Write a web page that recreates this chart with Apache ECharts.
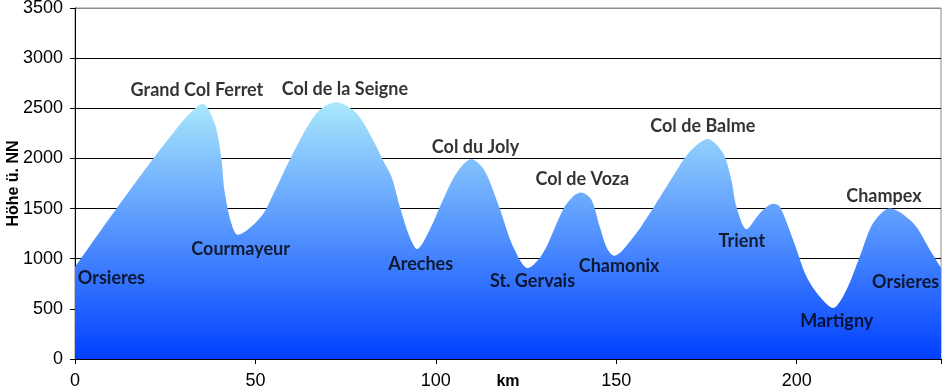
<!DOCTYPE html>
<html><head><meta charset="utf-8">
<script src="https://cdn.jsdelivr.net/npm/echarts@6/dist/echarts.min.js"></script>
<style>html,body{margin:0;padding:0;background:#fff}#c{width:944px;height:390px}</style>
</head><body><div id="c"></div>
<script>
// elevation profile (km, m)
const kmPts = [0,9.1,18.4,26.7,31.3,35.4,38.7,40.5,41.4,43.3,45.1,51.6,55.3,59.5,66.9,72.4,78,82.6,85.3,87.7,90,92.7,94.8,98.3,102,105.7,109.8,113.5,117.7,121.4,125.5,129.7,135.2,138,140.3,143.1,145.4,147.5,149.4,154.6,160.2,165.7,170.4,175.4,179.6,181.9,183.3,186.1,189.8,193.5,195.3,199,202.7,206.4,210.1,213.8,217.5,221.2,225.8,232.3,236.9,240];
const altPts = [915,1380,1840,2230,2430,2543,2350,2018,1686,1355,1238,1420,1670,1985,2450,2560,2450,2184,1985,1819,1520,1221,1096,1288,1587,1852,1995,1880,1500,1121,906,1056,1487,1620,1660,1587,1321,1100,1030,1210,1504,1819,2068,2194,2051,1786,1520,1295,1454,1547,1520,1188,823,623,508,690,1022,1355,1504,1355,1089,909];
// place-name annotations
const placeNames = ['Grand Col Ferret','Col de la Seigne','Courmayeur','Orsieres','Areches','Col du Joly','St. Gervais','Col de Voza','Chamonix','Col de Balme','Trient','Champex','Orsieres','Martigny'];
const placeKm = [33.8,74.8,45.9,10.1,95.8,111,126.8,140.6,150.8,174,184.8,224.2,230.2,211.1];
const placeAlt = [2682,2692,1099,810,949,2115,780,1796,929,2324,1178,1627,770,381];
const yTicks = [0,500,1000,1500,2000,2500,3000,3500];
const xTicks = [0,50,100,150,200];

const chart = echarts.init(document.getElementById('c'));
const labelFont = 'Lato, "Open Sans", sans-serif';
chart.setOption({
  animation:false,
  grid:{left:75,right:3,top:8,bottom:31,outerBoundsMode:'none',containLabel:false,show:true,borderColor:'#8c8c8c',borderWidth:1,backgroundColor:'transparent'},
  xAxis:{type:'value',min:0,max:240,interval:50,
    name:'km',nameLocation:'middle',nameGap:15,nameMoveOverlap:false,
    nameTextStyle:{fontFamily:'Liberation Sans, Arial',fontWeight:'bold',fontSize:16,color:'#000'},
    axisLine:{show:false},
    axisTick:{show:true,length:5,lineStyle:{color:'#000'}},
    axisLabel:{fontFamily:'Liberation Sans, Arial',fontSize:18,color:'#000',margin:13,
      formatter:v=>xTicks.includes(v)?String(v):''},
    splitLine:{show:false}},
  yAxis:{type:'value',min:0,max:3500,interval:500,
    name:'Höhe ü. NN',nameLocation:'middle',nameGap:53,nameRotate:90,nameMoveOverlap:false,
    nameTextStyle:{fontFamily:'Liberation Sans, Arial',fontWeight:'bold',fontSize:16,color:'#000'},
    axisLine:{show:true,lineStyle:{color:'#000'}},
    axisTick:{show:true,length:5,lineStyle:{color:'#000'}},
    axisLabel:{fontFamily:'Liberation Sans, Arial',fontSize:18,color:'#000',margin:12,
      formatter:v=>yTicks.includes(v)?String(v):''},
    splitLine:{show:true,lineStyle:{color:['#000','#000','#000','#000','#000','#000','#000','#8c8c8c'],width:1}}},
  series:[
    {type:'line',data:kmPts.map((k,i)=>[k,altPts[i]]),smooth:0.3,symbol:'none',
      lineStyle:{width:0},
      areaStyle:{opacity:1,color:new echarts.graphic.LinearGradient(0,0,0,1,[
        {offset:0,color:'#aae8fc'},{offset:1,color:'#0040ff'}])}},
    {type:'scatter',symbolSize:0,data:placeKm.map((k,i)=>[k,placeAlt[i],placeNames[i]]),
      label:{show:true,position:'inside',formatter:p=>p.data[2],
        fontFamily:labelFont,fontWeight:'bold',fontSize:18,color:'#000'},
      z:5}
  ]
});
</script></body></html>
